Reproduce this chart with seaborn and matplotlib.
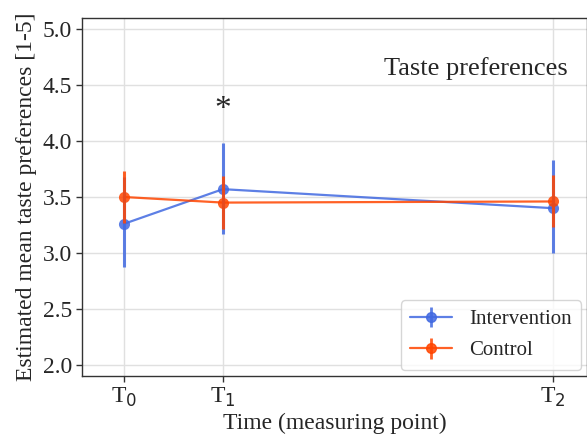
import matplotlib
matplotlib.use("Agg")
import matplotlib.pyplot as plt
import seaborn as sns
import pandas as pd
import numpy as np

weeks = [0, 3, 13]
tick_labels = ["T$_0$", "T$_1$", "T$_2$"]
groups = ["Intervention", "Control"]
intervention_mean = [3.26, 3.57, 3.40]
intervention_lo = [2.87, 3.17, 3.00]
intervention_hi = [3.68, 3.98, 3.83]
control_mean = [3.50, 3.45, 3.46]
control_lo = [3.27, 3.21, 3.23]
control_hi = [3.73, 3.69, 3.70]
colors = {"Intervention": "#4169E1", "Control": "#FF4500"}

sns.set_style("whitegrid")
plt.rcParams["font.family"] = ["Liberation Serif", "DejaVu Serif"]

df = pd.DataFrame({
    "week": weeks * 2,
    "mean": intervention_mean + control_mean,
    "lo": intervention_lo + control_lo,
    "hi": intervention_hi + control_hi,
    "group": ["Intervention"] * 3 + ["Control"] * 3,
})

fig = plt.figure(figsize=(5.87, 4.34), dpi=100)
ax = fig.add_axes([0.1397, 0.1336, 0.8603, 0.825])

sns.lineplot(data=df, x="week", y="mean", hue="group", palette=colors,
             marker="o", markersize=8, markeredgewidth=0, linewidth=1.6,
             alpha=0.85, legend=False, ax=ax)
handles = []
for g in groups:
    sub = df[df.group == g]
    ax.errorbar(sub["week"], sub["mean"],
                yerr=[sub["mean"] - sub["lo"], sub["hi"] - sub["mean"]],
                fmt="o", color=colors[g], ms=0, elinewidth=2.2,
                alpha=0.85, capsize=0)
    handles.append(ax.errorbar([], [], yerr=[], fmt="-o", color=colors[g],
                               ms=7, lw=1.6, elinewidth=2, alpha=0.85))

ax.set_xlim(-1.27, 14.03)
ax.set_ylim(1.9, 5.1)
ax.set_xticks(weeks)
ax.set_xticklabels(tick_labels, fontsize=17)
ax.set_yticks([2.0, 2.5, 3.0, 3.5, 4.0, 4.5, 5.0])
ax.set_yticklabels(["2.0", "2.5", "3.0", "3.5", "4.0", "4.5", "5.0"], fontsize=17)
ax.tick_params(axis="both", length=4, color="#333333", width=1, direction="out",
               bottom=True, left=True, pad=3)
for s in ax.spines.values():
    s.set_color("#333333")
    s.set_linewidth(1)
ax.grid(True, color="#e0e0e0", linewidth=1)
ax.set_xlabel("Time (measuring point)", fontsize=17, labelpad=3)
ax.set_ylabel("Estimated mean taste preferences [1-5]", fontsize=17, labelpad=4)
ax.text(3, 4.28, "*", ha="center", va="center", fontsize=24)
ax.text(0.962, 0.86, "Taste preferences", transform=ax.transAxes,
        ha="right", va="center", fontsize=19)
ax.legend(handles, groups, loc="lower right", fontsize=15, frameon=True,
          borderaxespad=0.3, handlelength=2.0, borderpad=0.45, labelspacing=0.55,
          handletextpad=0.8)

fig.savefig("out.png", dpi=100)
